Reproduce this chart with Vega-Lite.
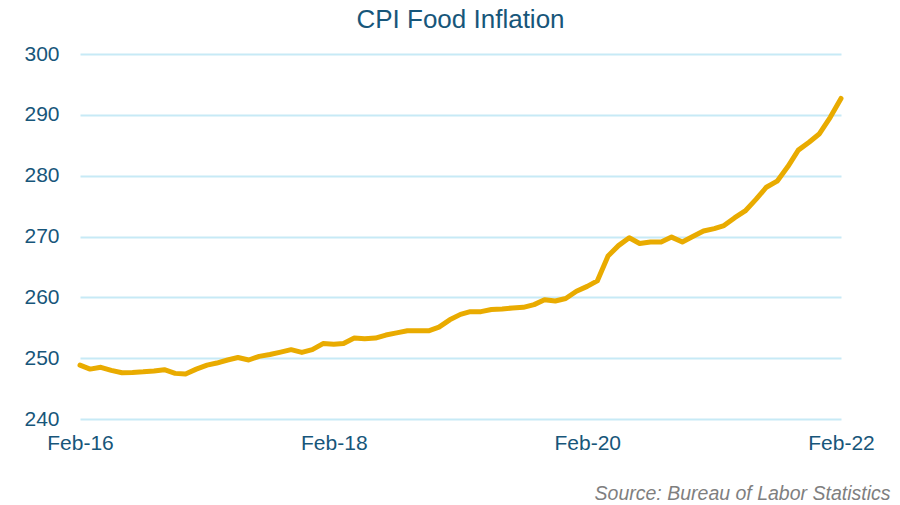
{
  "$schema": "https://vega.github.io/schema/vega-lite/v6.json",
  "autosize": {"type": "none"},
  "padding": {"left": 80, "top": 54, "right": 59, "bottom": 86},
  "width": 761,
  "height": 365,
  "background": "white",
  "config": {"view": {"stroke": null}, "font": "Liberation Sans"},
  "title": {"text": "CPI Food Inflation", "fontSize": 26, "fontWeight": "normal", "color": "#17567a", "anchor": "middle", "offset": 10, "font": "Liberation Sans"},
  "data": {"values": [
    {"date": "2016/02/01", "cpi": 248.85},
    {"date": "2016/03/01", "cpi": 248.2},
    {"date": "2016/04/01", "cpi": 248.5},
    {"date": "2016/05/01", "cpi": 248.0},
    {"date": "2016/06/01", "cpi": 247.6},
    {"date": "2016/07/01", "cpi": 247.65},
    {"date": "2016/08/01", "cpi": 247.75},
    {"date": "2016/09/01", "cpi": 247.9},
    {"date": "2016/10/01", "cpi": 248.1},
    {"date": "2016/11/01", "cpi": 247.5},
    {"date": "2016/12/01", "cpi": 247.4},
    {"date": "2017/01/01", "cpi": 248.2},
    {"date": "2017/02/01", "cpi": 248.85},
    {"date": "2017/03/01", "cpi": 249.2},
    {"date": "2017/04/01", "cpi": 249.7},
    {"date": "2017/05/01", "cpi": 250.1},
    {"date": "2017/06/01", "cpi": 249.7},
    {"date": "2017/07/01", "cpi": 250.3},
    {"date": "2017/08/01", "cpi": 250.6},
    {"date": "2017/09/01", "cpi": 251.0},
    {"date": "2017/10/01", "cpi": 251.4},
    {"date": "2017/11/01", "cpi": 250.95},
    {"date": "2017/12/01", "cpi": 251.4},
    {"date": "2018/01/01", "cpi": 252.4},
    {"date": "2018/02/01", "cpi": 252.3},
    {"date": "2018/03/01", "cpi": 252.4},
    {"date": "2018/04/01", "cpi": 253.3},
    {"date": "2018/05/01", "cpi": 253.2},
    {"date": "2018/06/01", "cpi": 253.3},
    {"date": "2018/07/01", "cpi": 253.8},
    {"date": "2018/08/01", "cpi": 254.15},
    {"date": "2018/09/01", "cpi": 254.5},
    {"date": "2018/10/01", "cpi": 254.5},
    {"date": "2018/11/01", "cpi": 254.5},
    {"date": "2018/12/01", "cpi": 255.1},
    {"date": "2019/01/01", "cpi": 256.3},
    {"date": "2019/02/01", "cpi": 257.2},
    {"date": "2019/03/01", "cpi": 257.65},
    {"date": "2019/04/01", "cpi": 257.65},
    {"date": "2019/05/01", "cpi": 258.0},
    {"date": "2019/06/01", "cpi": 258.1},
    {"date": "2019/07/01", "cpi": 258.25},
    {"date": "2019/08/01", "cpi": 258.35},
    {"date": "2019/09/01", "cpi": 258.8},
    {"date": "2019/10/01", "cpi": 259.6},
    {"date": "2019/11/01", "cpi": 259.4},
    {"date": "2019/12/01", "cpi": 259.8},
    {"date": "2020/01/01", "cpi": 261.0},
    {"date": "2020/02/01", "cpi": 261.8},
    {"date": "2020/03/01", "cpi": 262.7},
    {"date": "2020/04/01", "cpi": 266.8},
    {"date": "2020/05/01", "cpi": 268.5},
    {"date": "2020/06/01", "cpi": 269.8},
    {"date": "2020/07/01", "cpi": 268.85},
    {"date": "2020/08/01", "cpi": 269.1},
    {"date": "2020/09/01", "cpi": 269.1},
    {"date": "2020/10/01", "cpi": 269.9},
    {"date": "2020/11/01", "cpi": 269.1},
    {"date": "2020/12/01", "cpi": 270.0},
    {"date": "2021/01/01", "cpi": 270.9},
    {"date": "2021/02/01", "cpi": 271.3},
    {"date": "2021/03/01", "cpi": 271.8},
    {"date": "2021/04/01", "cpi": 273.1},
    {"date": "2021/05/01", "cpi": 274.2},
    {"date": "2021/06/01", "cpi": 276.1},
    {"date": "2021/07/01", "cpi": 278.1},
    {"date": "2021/08/01", "cpi": 279.1},
    {"date": "2021/09/01", "cpi": 281.5},
    {"date": "2021/10/01", "cpi": 284.2},
    {"date": "2021/11/01", "cpi": 285.5},
    {"date": "2021/12/01", "cpi": 286.9},
    {"date": "2022/01/01", "cpi": 289.6},
    {"date": "2022/02/01", "cpi": 292.7}
  ]},
  "mark": {"type": "line", "color": "#e9ab00", "strokeWidth": 5, "strokeCap": "round", "strokeJoin": "round"},
  "encoding": {
    "x": {
      "field": "date", "type": "temporal",
      "scale": {"domain": [{"year": 2016, "month": 2, "date": 1}, {"year": 2022, "month": 2, "date": 1}]},
      "axis": {
        "values": [{"year": 2016, "month": 2, "date": 1}, {"year": 2018, "month": 2, "date": 1}, {"year": 2020, "month": 2, "date": 1}, {"year": 2022, "month": 2, "date": 1}],
        "format": "%b-%y", "grid": false, "domain": false, "ticks": false,
        "labelFontSize": 21, "labelColor": "#17567a", "labelPadding": 13, "labelFont": "Liberation Sans",
        "labelFlush": false, "labelOverlap": false,
        "title": "Source: Bureau of Labor Statistics",
        "titleFontSize": 19.5, "titleFontStyle": "italic", "titleFontWeight": "normal", "titleColor": "#7f7f7f",
        "titleFont": "Liberation Sans", "titleAnchor": "end", "titleAlign": "right", "titleBaseline": "alphabetic",
        "titleX": 810, "titleY": 80
      }
    },
    "y": {
      "field": "cpi", "type": "quantitative",
      "scale": {"domain": [240, 300], "nice": false, "zero": false},
      "axis": {
        "values": [240, 250, 260, 270, 280, 290, 300],
        "grid": true, "gridColor": "#c7eaf6", "gridWidth": 2,
        "domain": false, "ticks": false,
        "labelFontSize": 21, "labelColor": "#17567a", "labelPadding": 21, "labelFont": "Liberation Sans",
        "title": null
      }
    }
  }
}
